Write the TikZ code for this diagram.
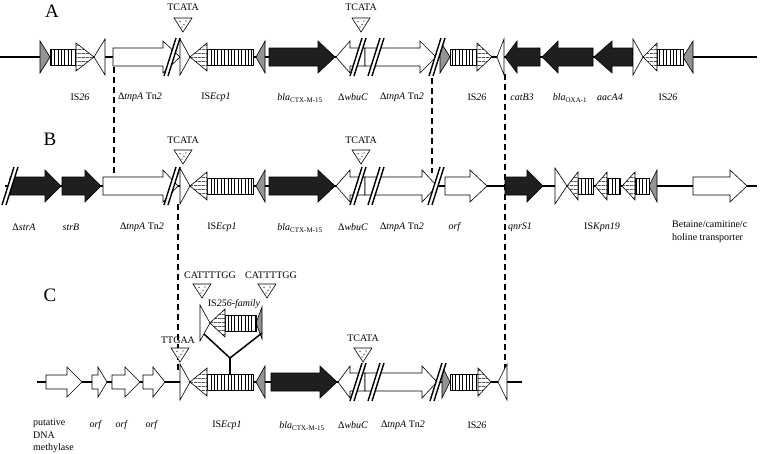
\documentclass[tikz,border=0pt]{standalone}
\usepackage{fontspec}
\setmainfont{Liberation Serif}
\usetikzlibrary{patterns.meta}

\begin{document}
\begin{tikzpicture}[
  x=1pt, y=-1pt,
  font=\fontsize{10}{12.5}\selectfont,
  backbone/.style={line width=1.3pt},
  gene/.style={draw, fill=black!88, line width=0.6pt},
  orf/.style={draw, fill=white, line width=0.6pt},
  irgray/.style={draw, fill=black!42, line width=0.6pt},
  irwhite/.style={draw, fill=white, line width=0.6pt},
  isbody/.style={
    draw, line width=0.6pt, preaction={fill=white},
    pattern={Lines[angle=90, distance=3.4pt, line width=0.6pt]}
  },
  ishead/.style={
    draw, line width=0.6pt, preaction={fill=white},
    pattern={Lines[distance=4pt, line width=0.6pt]}
  },
  site/.style={draw, fill=white, line width=0.6pt},
  brk/.style={line width=1.4pt},
  link/.style={dash pattern=on 6pt off 4pt, line width=1.4pt},
  lbl/.style={inner sep=0pt, anchor=center},
  rowlbl/.style={font=\fontsize{19}{22}\selectfont, inner sep=0pt}
]
\useasboundingbox (0,0) rectangle (760,453);

% ============================================================
% backbones and the three panel letters
% ============================================================
\draw[backbone] (0,57) -- (757,57);
\draw[backbone] (5,186) -- (757,186);
\draw[backbone] (37,382) -- (522,382);

\node[rowlbl] (rowA) at (52,11) {A};
\node[rowlbl] (rowB) at (50,139) {B};
\node[rowlbl] (rowC) at (50,295) {C};

% ============================================================
% dashed links between the panels
% ============================================================
\coordinate (lnkAa) at (114,67);  \coordinate (lnkBa) at (114,175);
\coordinate (lnkAb) at (432,68);  \coordinate (lnkBb) at (432,173);
\coordinate (lnkBc) at (178,204); \coordinate (lnkCc) at (178,371);
\coordinate (lnkAd) at (505,74);  \coordinate (lnkCd) at (505,372);
\draw[link] (lnkAa) -- (lnkBa);
\draw[link] (lnkAb) -- (lnkBb);
\draw[link] (lnkBc) -- (lnkCc);
\draw[link] (lnkAd) -- (lnkCd);

% ============================================================
% genes: start / head base / tip / row
% ============================================================
% resistance genes (black)
\foreach \xs/\xh/\xt/\yy in {
    269/318/335/57, 540/517/505/57, 593/558/542/57, 633/612/594/57,
    10/45/61/186, 62/85/101/186, 269/318/335/186, 505/527/543/186,
    271/320/337/382} {
  \draw[gene] (\xs,\yy-9) -- (\xh,\yy-9) -- (\xh,\yy-16) -- (\xt,\yy)
    -- (\xh,\yy+16) -- (\xh,\yy+9) -- (\xs,\yy+9) -- cycle;
}

% other reading frames (white)
\foreach \xs/\xh/\xt/\yy in {
    113/163/180/57, 365/350/336/57, 365/420/436/57,
    103/163/178/186, 365/350/336/186, 365/422/437/186, 445/470/487/186,
    693/730/747/186,
    365/350/338/382, 365/422/437/382} {
  \draw[orf] (\xs,\yy-9) -- (\xh,\yy-9) -- (\xh,\yy-16) -- (\xt,\yy)
    -- (\xh,\yy+16) -- (\xh,\yy+9) -- (\xs,\yy+9) -- cycle;
}
% small ones in C
\foreach \xs/\xh/\xt in {46/67/82, 92/98/107, 112/125/140, 143/153/165} {
  \draw[orf] (\xs,375) -- (\xh,375) -- (\xh,367) -- (\xt,382)
    -- (\xh,397) -- (\xh,389) -- (\xs,389) -- cycle;
}

% ============================================================
% insertion sequences: inverted repeats, bodies, heads
% ============================================================
\foreach \xb/\xt/\yy in {
    40/50/57, 265/256/57, 440/450/57, 693/683/57,
    265/256/186, 657/649/186,
    265/256/382, 442/450/382, 262/256/323} {
  \draw[irgray] (\xb,\yy-16) -- (\xt,\yy) -- (\xb,\yy+16) -- cycle;
}
\foreach \xb/\xt/\yy in {
    105/94/57, 180/190/57, 504/497/57, 633/643/57,
    180/190/186, 555/567/186,
    180/190/382, 200/210/323, 507/498/382} {
  \draw[irwhite] (\xb,\yy-18) -- (\xt,\yy) -- (\xb,\yy+18) -- cycle;
}
\foreach \xa/\xb/\yy in {
    50/76/57, 207/253/57, 450/477/57, 657/683/57,
    207/253/186, 578/593/186, 607/620/186, 635/649/186,
    207/253/382, 450/478/382, 225/256/323} {
  \draw[isbody] (\xa,\yy-8) rectangle (\xb,\yy+8);
}
\foreach \xb/\xt/\yy in {
    76/94/57, 207/190/57, 477/492/57, 657/643/57,
    207/190/186, 578/567/186, 607/595/186, 635/622/186,
    207/190/382, 478/491/382, 225/210/323} {
  \draw[ishead] (\xb,\yy-14) -- (\xt,\yy) -- (\xb,\yy+14) -- cycle;
}

% truncation marks
\foreach \cx/\yy in {
    172/57, 358/57, 376/57, 437/57,
    10/186, 172/186, 358/186, 376/186, 436/186,
    358/382, 376/382, 438/382} {
  \fill[white] (\cx-8,\yy+19) -- (\cx+4,\yy-19) -- (\cx+8,\yy-19)
    -- (\cx-4,\yy+19) -- cycle;
  \draw[brk] (\cx-8,\yy+19) -- (\cx+4,\yy-19) (\cx-4,\yy+19) -- (\cx+8,\yy-19);
}

% IS256-family insertion into ISEcp1
\coordinate (insFoot) at (230,374);
\coordinate (insFork) at (230,358);
\coordinate (insLeft) at (204,334);
\coordinate (insRight) at (262,333);
\draw[line width=1.5pt] (insFoot) -- (insFork);
\draw[line width=1.5pt] (insLeft) -- (insFork) -- (insRight);

% ============================================================
% target site duplications
% ============================================================
\foreach \mx/\my in {183/18, 361/18, 183/150, 361/150,
                     202/284, 267/284, 180/348, 363/348} {
  \draw[site] (\mx-9,\my) -- (\mx+9,\my) -- (\mx,\my+14) -- cycle;
  \fill (\mx-3,\my+3.5) circle (0.6pt) (\mx+3,\my+3) circle (0.6pt)
        (\mx+1,\my+6.5) circle (0.6pt) (\mx-1,\my+9) circle (0.6pt);
}
\node[lbl] (tsdA1) at (183,7) {TCATA};
\node[lbl] (tsdA2) at (361,7) {TCATA};
\node[lbl] (tsdB1) at (183,140) {TCATA};
\node[lbl] (tsdB2) at (361,140) {TCATA};
\node[lbl] (tsdC1) at (210,275) {CATTTTGG};
\node[lbl] (tsdC2) at (271,275) {CATTTTGG};
\node[lbl] (tsdC3) at (178,340) {TTGAA};
\node[lbl] (tsdC4) at (363,338) {TCATA};

% ============================================================
% gene labels
% ============================================================
% A
\node[lbl] (gA1) at (80,97) {IS\textit{26}};
\node[lbl] (gA2) at (140,97) {Δ\textit{tnpA} Tn\textit{2}};
\node[lbl] (gA3) at (216,97) {IS\textit{Ecp1}};
\node[lbl] (gA4) at (300,98) {\textit{bla}\textsubscript{CTX-M-15}};
\node[lbl] (gA5) at (353,97) {Δ\textit{wbuC}};
\node[lbl] (gA6) at (402,97) {Δ\textit{tnpA} Tn\textit{2}};
\node[lbl] (gA7) at (477,97) {IS\textit{26}};
\node[lbl] (gA8) at (522,97) {\textit{catB3}};
\node[lbl] (gA9) at (570,98) {\textit{bla}\textsubscript{OXA-1}};
\node[lbl] (gA10) at (610,97) {\textit{aacA4}};
\node[lbl] (gA11) at (668,97) {IS\textit{26}};

% B
\node[lbl] (gB1) at (24,227) {Δ\textit{strA}};
\node[lbl] (gB2) at (71,227) {\textit{strB}};
\node[lbl] (gB3) at (142,227) {Δ\textit{tnpA} Tn\textit{2}};
\node[lbl] (gB4) at (222,227) {IS\textit{Ecp1}};
\node[lbl] (gB5) at (300,228) {\textit{bla}\textsubscript{CTX-M-15}};
\node[lbl] (gB6) at (353,227) {Δ\textit{wbuC}};
\node[lbl] (gB7) at (402,227) {Δ\textit{tnpA} Tn\textit{2}};
\node[lbl] (gB8) at (455,227) {\textit{orf}};
\node[lbl] (gB9) at (520,227) {\textit{qnrS1}};
\node[lbl] (gB10) at (602,227) {IS\textit{Kpn19}};
\node[lbl, anchor=north west, align=left] (gB11) at (672,221)
  {Betaine/camitine/c\\holine transporter};

% C
\node[lbl, anchor=north west, align=left] (gC1) at (33,419)
  {putative\\DNA\\methylase};
\node[lbl] (gC2) at (96,425) {\textit{orf}};
\node[lbl] (gC3) at (122,425) {\textit{orf}};
\node[lbl] (gC4) at (152,425) {\textit{orf}};
\node[lbl] (gC5) at (227,425) {IS\textit{Ecp1}};
\node[lbl] (gC6) at (302,426) {\textit{bla}\textsubscript{CTX-M-15}};
\node[lbl] (gC7) at (353,425) {Δ\textit{wbuC}};
\node[lbl] (gC8) at (403,425) {Δ\textit{tnpA} Tn\textit{2}};
\node[lbl] (gC9) at (477,425) {IS\textit{26}};
\node[lbl] (gIns) at (234,304) {IS\textit{256-family}};

\end{tikzpicture}
\end{document}
